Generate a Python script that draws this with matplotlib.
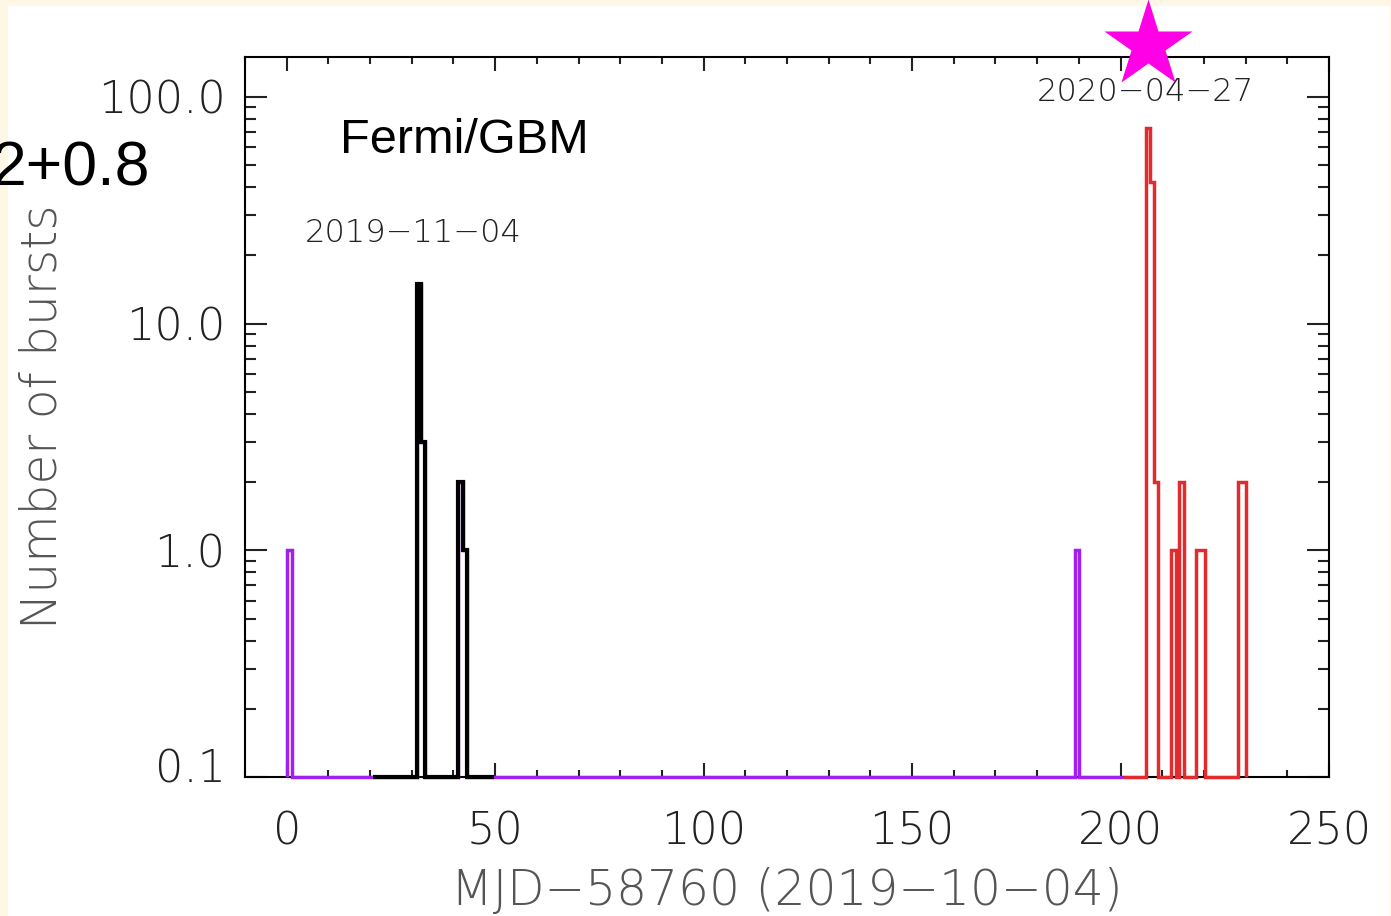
#Burst counts per day seen by Fermi/GBM, log scale histogram

import matplotlib
matplotlib.use('Agg')
import matplotlib.pyplot as plt
import matplotlib.ticker as mtick
import matplotlib.transforms as mtrans
from matplotlib.patches import Rectangle
import numpy as np

#Histogram data: bin edges (MJD-58760) and counts per bin
#all bursts up to the 2020 active episode
all_edges = [0.1, 1.2, 31.2, 32.2, 33.2, 41.2, 42.2, 43.2, 189.0, 190.1, 200.5]
all_counts = [1, 0, 15, 3, 0, 2, 1, 0, 1, 0]

#2019-11-04 episode
nov_edges = [20.6, 31.2, 32.2, 33.2, 41.2, 42.2, 43.2, 49.7]
nov_counts = [0, 15, 3, 0, 2, 1, 0]

#2020-04-27 episode
apr_edges = [200.5, 206.1, 207.1, 208.1, 209.1, 212.2, 213.2, 214.0, 215.2,
             218.2, 220.2, 228.2, 230.2]
apr_counts = [0, 73, 42, 2, 0, 1, 0, 2, 0, 1, 0, 2]

#FRB time marker
star_x = 206.6
star_y = 170.

ytick_vals = [0.1, 1., 10., 100.]
ytick_labels = ['0.1', '1.0', '10.0', '100.0']
xtick_vals = [0, 50, 100, 150, 200, 250]

floor = 0.1   #empty bins drawn on the bottom of the plot

purple = '#a020f0'
red = '#e32b2e'
magenta = '#ff00e6'
tickcol = '#222222'
labcol = '#555555'

thin = dict(family=['DejaVu Sans'], weight=200)

#make Plot
fig = plt.figure(figsize=(13.91, 9.16), dpi=100)
fig.patch.set_facecolor('#fef7e6')
fig.patches.append(Rectangle((8/1391., 0), (1390-8)/1391., (916-6)/916.,
                             transform=fig.transFigure, facecolor='white',
                             edgecolor='none', zorder=-10))

ax = fig.add_axes([245/1391., (916-777)/916., (1329-245)/1391., (777-57)/916.])
ax.set_facecolor('white')
ax.set_yscale('log')
ax.set_xlim(-10, 250)
ax.set_ylim(0.1, 150)

def hist(edges, counts, color, lw, z):
    vals = np.maximum(np.array(counts, dtype=float), floor)
    st = ax.stairs(vals, edges, baseline=floor, color=color, lw=lw, zorder=z)
    st.set_clip_on(False)

hist(all_edges, all_counts, purple, 2.5, 3)
hist(nov_edges, nov_counts, 'black', 3.0, 4)
hist(apr_edges, apr_counts, red, 2.5, 5)

#Ticks
ax.set_xticks(xtick_vals)
ax.xaxis.set_minor_locator(mtick.MultipleLocator(10))
ax.set_yticks(ytick_vals)
ax.set_yticklabels(ytick_labels)
ax.yaxis.set_minor_locator(mtick.LogLocator(base=10, subs=np.arange(2, 10)))
ax.yaxis.set_minor_formatter(mtick.NullFormatter())

ax.tick_params(axis='both', which='both', direction='in', top=True, right=True,
               colors=tickcol, width=1.5)
ax.tick_params(axis='x', which='major', length=10, pad=24)
ax.tick_params(axis='x', which='minor', length=5)
ax.tick_params(axis='y', which='major', length=16, pad=14)
ax.tick_params(axis='y', which='minor', length=8)

for sp in ax.spines.values():
    sp.set_linewidth(1.5)
    sp.set_color('black')

for item in ax.get_xticklabels() + ax.get_yticklabels():
    item.set_fontsize(32)
    item.set_fontfamily(thin['family'])
    item.set_fontweight(thin['weight'])
    item.set_color(tickcol)
#lowest label is lifted a bit above the x axis line
lab0 = ax.get_yticklabels()[0]
lab0.set_transform(lab0.get_transform() +
                   mtrans.ScaledTranslation(0, 8.5/72., fig.dpi_scale_trans))

ax.set_xlabel('MJD\u221258760 (2019\u221210\u221204)', fontsize=35, color=labcol,
              labelpad=10, **thin)
ax.set_ylabel('Number of bursts', fontsize=35, color=labcol, **thin)
ax.yaxis.set_label_coords(-0.165, 0.5)

#Annotations
ax.text(340/1391., 1-153/916., 'Fermi/GBM', transform=fig.transFigure,
        fontsize=35, family='Liberation Sans', va='baseline', ha='left')
ax.text(150/1391., 1-185/916., '2+0.8', transform=fig.transFigure,
        fontsize=45, family='Liberation Sans', va='baseline', ha='right')
ax.text(413/1391., 1-233/916., '2019\u221211\u221204', transform=fig.transFigure,
        fontsize=23, color=tickcol, va='center', ha='center', **thin)
ax.text(1145/1391., 1-92/916., '2020\u221204\u221227', transform=fig.transFigure,
        fontsize=23, color=tickcol, va='center', ha='center', **thin)

ax.plot([star_x], [star_y], marker='*', ms=66, color=magenta, mec='none',
        clip_on=False, zorder=10)

plt.savefig('out.png', dpi=100)
